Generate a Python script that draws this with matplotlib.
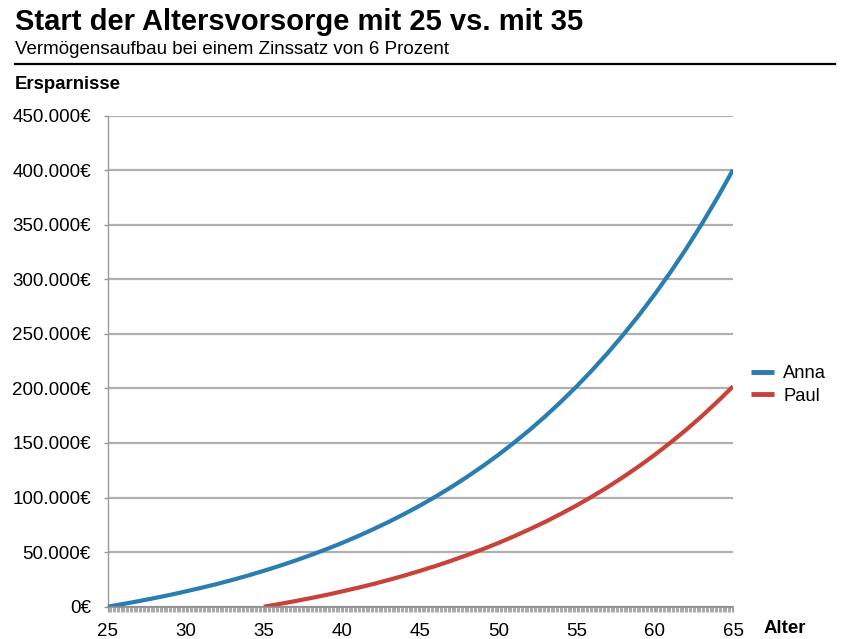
import matplotlib
matplotlib.use("Agg")
import matplotlib.pyplot as plt
from matplotlib.lines import Line2D
from matplotlib.ticker import FuncFormatter, MultipleLocator

plt.rcParams["font.family"] = ["Liberation Sans", "DejaVu Sans"]

# values (Euro, one point per year of age)
anna_ages = list(range(25, 66))
anna_savings = [0, 2500, 5100, 7900, 10800, 14000, 17300, 20800, 24600, 28600,
                32900, 37400, 42200, 47300, 52700, 58400, 64500, 71000, 77800,
                85100, 92800, 101000, 109700, 119000, 128800, 139200, 150300,
                162000, 174500, 187800, 201800, 216800, 232600, 249500, 267300,
                286300, 306400, 327800, 350500, 374600, 400200]

paul_ages = list(range(35, 66))
paul_savings = [0, 2500, 5100, 7900, 10800, 14000, 17300, 20800, 24600, 28600,
                32900, 37400, 42200, 47300, 52700, 58400, 64500, 71000, 77800,
                85100, 92800, 101000, 109700, 119000, 128800, 139200, 150300,
                162000, 174500, 187800, 201800]

x_ticks = [25, 30, 35, 40, 45, 50, 55, 60, 65]
y_ticks = [0, 50000, 100000, 150000, 200000, 250000, 300000, 350000, 400000, 450000]

BLUE = "#2a7db3"
RED = "#c8423a"
GRID = "#b0b0b0"

W, H = 850, 639
fig = plt.figure(figsize=(W / 100, H / 100), dpi=100)
fig.patch.set_facecolor("white")


def fx(px):
    return px / W


def fy(py):
    return 1 - py / H


ax = fig.add_axes([fx(107.5), fy(606.7), fx(733) - fx(107.5), fy(115.5) - fy(606.7)])

ax.plot(anna_ages, anna_savings, color=BLUE, lw=3, solid_capstyle="butt",
        label="Anna", zorder=3)
ax.plot(paul_ages, paul_savings, color=RED, lw=3, solid_capstyle="butt",
        label="Paul", zorder=3)

ax.set_xlim(25, 65)
ax.set_ylim(0, 450000)
ax.set_xticks(x_ticks)
ax.set_yticks(y_ticks)
ax.xaxis.set_minor_locator(MultipleLocator(1 / 12))
ax.yaxis.set_major_formatter(
    FuncFormatter(lambda v, _: f"{int(v):,}".replace(",", ".") + "€"))

ax.grid(axis="y", color=GRID, lw=1.6)
ax.set_axisbelow(True)

for s in ["top", "right"]:
    ax.spines[s].set_visible(False)
ax.spines["left"].set_color("#9a9a9a")
ax.spines["left"].set_linewidth(1)
ax.spines["bottom"].set_color("#8a8a8a")
ax.spines["bottom"].set_linewidth(1.2)
ax.spines["bottom"].set_zorder(4)

ax.tick_params(axis="y", length=3, width=1, color="#9a9a9a", pad=9,
               labelsize=13.5, labelcolor="black")
ax.tick_params(axis="x", which="major", length=3.6, width=0.8, color="#9a9a9a",
               pad=8, labelsize=13.5, labelcolor="black")
ax.tick_params(axis="x", which="minor", length=3.6, width=0.7, color="#a8a8a8")

leg = ax.legend(loc="center left", bbox_to_anchor=(fx(751), fy(385)),
                bbox_transform=fig.transFigure, frameon=False, fontsize=13.2,
                handlelength=1.25, handletextpad=0.5, labelspacing=0.3,
                borderpad=0, borderaxespad=0)
for h in leg.get_lines():
    h.set_linewidth(3.5)

fig.text(fx(15), fy(30), "Start der Altersvorsorge mit 25 vs. mit 35",
         fontsize=21, fontweight="bold", va="baseline", ha="left")
fig.text(fx(15), fy(54), "Vermögensaufbau bei einem Zinssatz von 6 Prozent",
         fontsize=13.5, va="baseline", ha="left")
fig.add_artist(Line2D([fx(15), fx(835)], [fy(64), fy(64)],
                      transform=fig.transFigure, color="black", lw=1.6))
fig.text(fx(15), fy(89), "Ersparnisse", fontsize=13.4, fontweight="bold",
         va="baseline", ha="left")
fig.text(fx(764), fy(633), "Alter", fontsize=13.4, fontweight="bold",
         va="baseline", ha="left")

fig.savefig("out.png", dpi=100, facecolor="white")
